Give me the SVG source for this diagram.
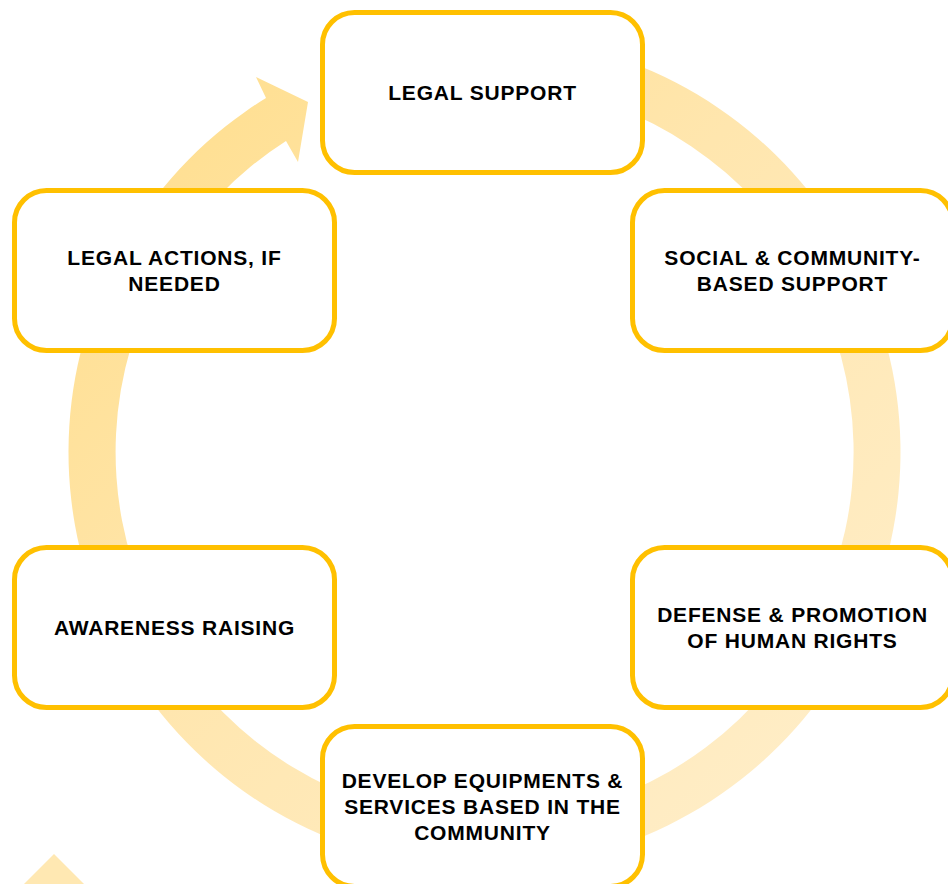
<svg xmlns="http://www.w3.org/2000/svg" width="948" height="884" viewBox="0 0 948 884">
  <style>
    .box { fill: #FFFFFF; stroke: #FFC000; stroke-width: 5; }
    .lbl { font-family: "Liberation Sans", Arial, sans-serif; font-weight: bold; font-size: 21px; letter-spacing: 0.8px; fill: #000000; text-anchor: middle; }
  </style>
  <defs>
    <linearGradient id="ringGrad" x1="0" y1="0" x2="1" y2="1">
      <stop offset="0" stop-color="#FFDD88"/>
      <stop offset="0.45" stop-color="#FFE6AE"/>
      <stop offset="1" stop-color="#FFEFCD"/>
    </linearGradient>
  </defs>
  <rect width="948" height="884" fill="#FFFFFF"/>
  <g id="connectors">
    <path d="M484,36 A416,416 0 1 1 266,98 L256,77 L308,102 L298,162 L286,141 A369,369 0 1 0 484,83 Z" fill="url(#ringGrad)"/>
    <polygon points="54,854 20,888 88,888" fill="#FFE8B2"/>
  </g>
  <g id="legal-support">
    <rect class="box" x="322.5" y="12.5" width="320" height="160" rx="32"/>
    <text class="lbl" x="482.5" y="100">LEGAL SUPPORT</text>
  </g>
  <g id="social-support">
    <rect class="box" x="632.5" y="190.5" width="320" height="160" rx="32"/>
    <text class="lbl" x="792.5" y="265">SOCIAL &amp; COMMUNITY-</text>
    <text class="lbl" x="792.5" y="291">BASED SUPPORT</text>
  </g>
  <g id="defense-promotion">
    <rect class="box" x="632.5" y="547.5" width="320" height="160" rx="32"/>
    <text class="lbl" x="792.5" y="622">DEFENSE &amp; PROMOTION</text>
    <text class="lbl" x="792.5" y="648">OF HUMAN RIGHTS</text>
  </g>
  <g id="develop-equipments">
    <rect class="box" x="322.5" y="726.5" width="320" height="160" rx="32"/>
    <text class="lbl" x="482.5" y="788">DEVELOP EQUIPMENTS &amp;</text>
    <text class="lbl" x="482.5" y="814">SERVICES BASED IN THE</text>
    <text class="lbl" x="482.5" y="840">COMMUNITY</text>
  </g>
  <g id="awareness-raising">
    <rect class="box" x="14.5" y="547.5" width="320" height="160" rx="32"/>
    <text class="lbl" x="174.5" y="635">AWARENESS RAISING</text>
  </g>
  <g id="legal-actions">
    <rect class="box" x="14.5" y="190.5" width="320" height="160" rx="32"/>
    <text class="lbl" x="174.5" y="265">LEGAL ACTIONS, IF</text>
    <text class="lbl" x="174.5" y="291">NEEDED</text>
  </g>
</svg>
